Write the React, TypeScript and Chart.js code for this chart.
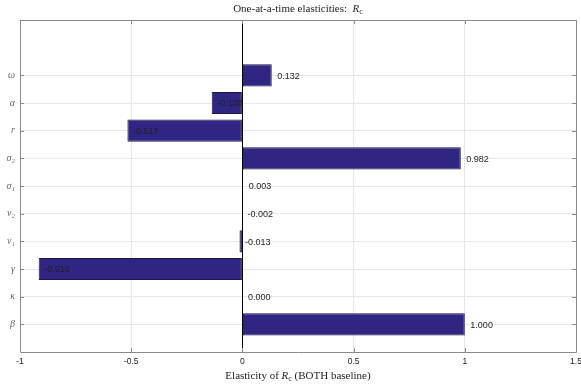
import React, { useEffect, useRef } from "react";
import { Chart, registerables } from "chart.js";

Chart.register(...registerables);

const categories = ["β", "κ", "γ", "ν₁", "ν₂", "σ₁", "σ₂", "r", "α", "ω"];
const positions = [1, 2, 3, 4, 5, 6, 7, 8, 9, 10];
const elasticities = [1.0, 0.0, -0.916, -0.013, -0.002, 0.003, 0.982, -0.517, -0.138, 0.132];
const xTicks = [-1, -0.5, 0, 0.5, 1, 1.5];

const SERIF = "'Liberation Serif', 'DejaVu Serif', serif";
const SANS = "'Liberation Sans', Arial, sans-serif";

function drawRc(ctx: CanvasRenderingContext2D, prefix: string, suffix: string, cx: number, cy: number, size: number) {
  ctx.save();
  ctx.textBaseline = "middle";
  ctx.fillStyle = "#222";
  const f1 = `${size}px ${SERIF}`;
  const fi = `italic ${size}px ${SERIF}`;
  const fs = `${Math.round(size * 0.7)}px ${SERIF}`;
  ctx.font = f1;
  const w1 = ctx.measureText(prefix).width;
  const w3 = ctx.measureText(suffix).width;
  ctx.font = fi;
  const w2 = ctx.measureText("R").width;
  ctx.font = fs;
  const ws = ctx.measureText("c").width;
  const total = w1 + w2 + ws + w3;
  let x = cx - total / 2;
  ctx.textAlign = "left";
  ctx.font = f1;
  ctx.fillText(prefix, x, cy);
  x += w1;
  ctx.font = fi;
  ctx.fillText("R", x, cy);
  x += w2;
  ctx.font = fs;
  ctx.fillText("c", x, cy + size * 0.25);
  x += ws;
  ctx.font = f1;
  ctx.fillText(suffix, x, cy);
  ctx.restore();
}

const decorPlugin = {
  id: "decor",
  afterDatasetsDraw(chart: any) {
    const { ctx, chartArea: a, scales } = chart;
    const xs = scales.x;
    const ys = scales.y;
    ctx.save();
    // value labels
    ctx.font = `9px ${SANS}`;
    ctx.fillStyle = "#222";
    ctx.textAlign = "left";
    ctx.textBaseline = "middle";
    elasticities.forEach((v, i) => {
      const px = xs.getPixelForValue(v + 0.025);
      const py = ys.getPixelForValue(positions[i]);
      ctx.fillText(v.toFixed(3), px, py + 1);
    });
    // zero line
    const x0 = Math.round(xs.getPixelForValue(0)) + 0.5;
    ctx.strokeStyle = "#000";
    ctx.lineWidth = 1;
    ctx.beginPath();
    ctx.moveTo(x0, a.top);
    ctx.lineTo(x0, a.bottom);
    ctx.stroke();
    // box
    ctx.strokeStyle = "#8a8a8a";
    ctx.beginPath();
    ctx.rect(Math.round(a.left) + 0.5, Math.round(a.top) + 0.5, Math.round(a.right - a.left), Math.round(a.bottom - a.top));
    ctx.stroke();
    // tick marks
    const tl = 4;
    ctx.beginPath();
    xTicks.forEach((t) => {
      const px = Math.round(xs.getPixelForValue(t)) + 0.5;
      ctx.moveTo(px, a.bottom);
      ctx.lineTo(px, a.bottom - tl);
      ctx.moveTo(px, a.top);
      ctx.lineTo(px, a.top + tl);
    });
    positions.forEach((p) => {
      const py = Math.round(ys.getPixelForValue(p)) + 0.5;
      ctx.moveTo(a.left, py);
      ctx.lineTo(a.left + tl, py);
      ctx.moveTo(a.right, py);
      ctx.lineTo(a.right - tl, py);
    });
    ctx.stroke();
    ctx.restore();
    const cx = (a.left + a.right) / 2;
    drawRc(ctx, "One-at-a-time elasticities:  ", "", cx, 9, 11);
    drawRc(ctx, "Elasticity of ", " (BOTH baseline)", cx, 376, 11);
  },
};

export default function App() {
  const ref = useRef<HTMLCanvasElement>(null);
  useEffect(() => {
    const chart = new Chart(ref.current!, {
      type: "bar",
      data: {
        datasets: [
          {
            data: elasticities.map((v, i) => ({ x: v, y: positions[i] })),
            backgroundColor: "#2e2682",
            borderColor: "#1b1745",
            borderWidth: 1,
            borderSkipped: false,
            barPercentage: 0.8,
            categoryPercentage: 1,
          },
        ],
      },
      options: {
        indexAxis: "y",
        responsive: false,
        animation: false,
        layout: { padding: { top: 20, right: 5, left: 0, bottom: 0 } },
        plugins: { legend: { display: false }, tooltip: { enabled: false }, title: { display: false } },
        scales: {
          x: {
            type: "linear",
            min: -1,
            max: 1.5,
            offset: false,
            afterBuildTicks: (s: any) => {
              s.ticks = xTicks.map((v) => ({ value: v }));
            },
            afterFit: (s: any) => {
              s.height = 34;
              s.paddingLeft = 0;
              s.paddingRight = 0;
            },
            grid: { color: "#e6e6e6", drawTicks: false, offset: false },
            border: { display: false },
            ticks: {
              padding: 5,
              font: { size: 8.5, family: SANS },
              color: "#222",
              callback: (v: any) => String(v),
            },
          },
          y: {
            type: "linear",
            min: 0,
            max: 12,
            offset: false,
            afterBuildTicks: (s: any) => {
              s.ticks = positions.map((v) => ({ value: v }));
            },
            afterFit: (s: any) => {
              s.width = 20;
              s.paddingTop = 0;
              s.paddingBottom = 0;
            },
            grid: { color: "#e6e6e6", drawTicks: false, offset: false },
            border: { display: false },
            ticks: {
              padding: 5,
              font: { size: 10, family: SERIF, style: "italic" },
              color: "#666",
              callback: (v: any) => categories[positions.indexOf(v)] ?? "",
            },
          },
        },
      },
      plugins: [decorPlugin],
    } as any);
    return () => chart.destroy();
  }, []);
  return (
    <div style={{ position: "fixed", left: 0, top: 0, width: 581, height: 386, background: "#fff" }}>
      <canvas ref={ref} width={581} height={386} style={{ display: "block" }} />
    </div>
  );
}
